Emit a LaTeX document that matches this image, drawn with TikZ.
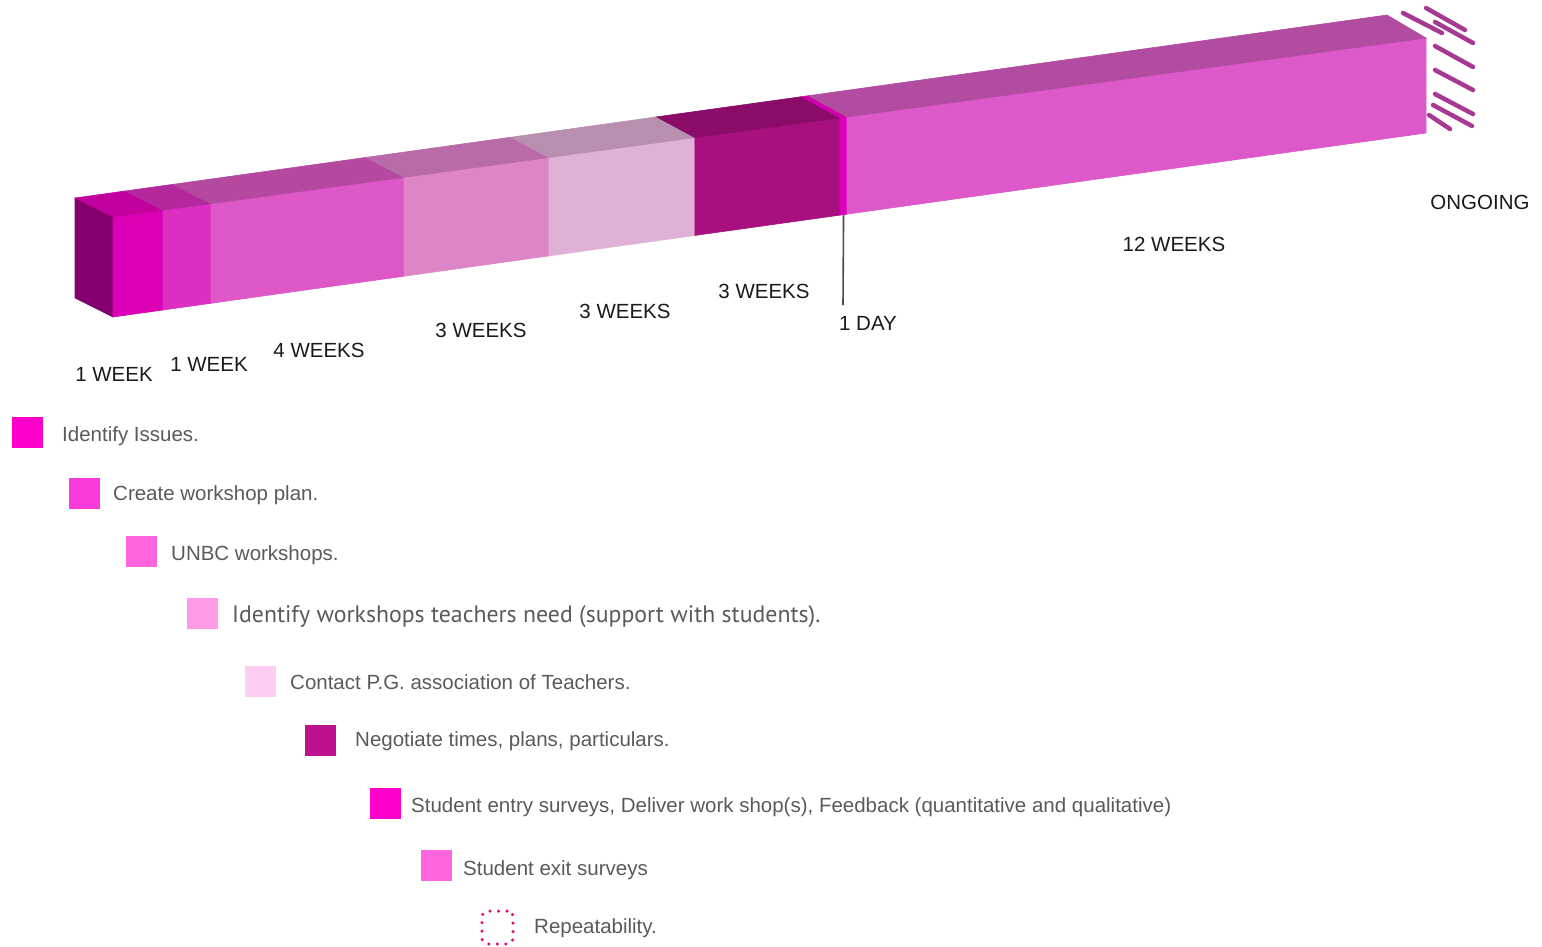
\documentclass[tikz,border=0pt]{standalone}
\usepackage{fontspec}
\setmainfont{Liberation Sans}
\newfontfamily\humfont{PT Sans}
\usetikzlibrary{calc}
\definecolor{leftface}{HTML}{83006E}
\definecolor{fA}{HTML}{DB00B5}\definecolor{tA}{HTML}{C2009E}
\definecolor{fB}{HTML}{DC2EC0}\definecolor{tB}{HTML}{B4289E}
\definecolor{fC}{HTML}{DD57C6}\definecolor{tC}{HTML}{B5499F}
\definecolor{fD}{HTML}{DE85C8}\definecolor{tD}{HTML}{B86BA8}
\definecolor{fE}{HTML}{E0B1D6}\definecolor{tE}{HTML}{B98FB0}
\definecolor{fF}{HTML}{A8107E}\definecolor{tF}{HTML}{8A0C68}
\definecolor{fS}{HTML}{DD00BB}\definecolor{tS}{HTML}{D000AE}
\definecolor{fG}{HTML}{DD58C8}\definecolor{tG}{HTML}{B24CA0}
\definecolor{stripe}{HTML}{A63A92}
\definecolor{lg1}{HTML}{FF00CC}\definecolor{lg2}{HTML}{F83AD8}
\definecolor{lg3}{HTML}{FF66DD}\definecolor{lg4}{HTML}{FF99E8}
\definecolor{lg5}{HTML}{FFCCF2}\definecolor{lg6}{HTML}{BE118E}
\definecolor{dotc}{HTML}{E0107A}
\definecolor{legtext}{HTML}{5A5A5A}
\definecolor{toptext}{HTML}{1A1A1A}
\newcommand\barseg[4]{%
  \filldraw[fill=#3,draw=#3,line width=0.6pt] ($(FTL)!#1!(FTR)$) -- ($(FTL)!#2!(FTR)$) -- ($(FBL)!#2!(FBR)$) -- ($(FBL)!#1!(FBR)$) -- cycle;
  \filldraw[fill=#4,draw=#4,line width=0.6pt] ($(FTL)!#1!(FTR)$) -- ($(FTL)!#2!(FTR)$) -- ($(BTL)!#2!(BTR)$) -- ($(BTL)!#1!(BTR)$) -- cycle;}
\tikzset{
  durlabel/.style={text=toptext,font=\fontsize{20.5}{24}\selectfont,inner sep=0pt,anchor=center},
  legsq/.style={minimum size=31pt,inner sep=0pt,anchor=north west},
  legtxt/.style={text=legtext,font=\fontsize{20.5}{24}\selectfont,inner sep=0pt,anchor=base west},
  stripeline/.style={draw=stripe,line width=4.5pt,line cap=round}
}
\begin{document}
\begin{tikzpicture}[x=1pt,y=-1pt]
\useasboundingbox (0,0) rectangle (1542,946);
\coordinate (FTL) at (113,217);
\coordinate (FTR) at (1426,38);
\coordinate (FBL) at (113,317);
\coordinate (FBR) at (1426,133);
\coordinate (BTL) at (75,198);
\coordinate (BTR) at (1387,15);
% left end face
\filldraw[fill=leftface,draw=leftface,line width=0.6pt] (BTL) -- (FTL) -- (FBL) -- (75,298) -- cycle;
% bar segments
\barseg{0}{0.03808}{fA}{tA}
\barseg{0.03808}{0.07464}{fB}{tB}
\barseg{0.07464}{0.22163}{fC}{tC}
\barseg{0.22163}{0.33206}{fD}{tD}
\barseg{0.33206}{0.44326}{fE}{tE}
\barseg{0.44326}{0.55369}{fF}{tF}
\barseg{0.55369}{0.55903}{fS}{tS}
\barseg{0.55903}{1}{fG}{tG}
% ongoing stripes
\draw[stripeline] (1403,13) -- (1442,33);
\draw[stripeline] (1426,8) -- (1465,30);
\draw[stripeline] (1435,22) -- (1473,43);
\draw[stripeline] (1435,46) -- (1473,67);
\draw[stripeline] (1435,70) -- (1473,90);
\draw[stripeline] (1435,94) -- (1473,114);
\draw[stripeline] (1433,105) -- (1472,126);
\draw[stripeline] (1429,115) -- (1450,129);
% 1 day marker line
\coordinate (daytop) at ($(FBL)!0.5564!(FBR)$);
\coordinate (daybot) at (843,305);
\draw[draw=black!70,line width=1.6pt] (daytop) -- (daybot);
% duration labels
\node[durlabel] (d1) at (114,374) {1 WEEK};
\node[durlabel] (d2) at (209,364) {1 WEEK};
\node[durlabel] (d3) at (319,350) {4 WEEKS};
\node[durlabel] (d4) at (481,330) {3 WEEKS};
\node[durlabel] (d5) at (625,311) {3 WEEKS};
\node[durlabel] (d6) at (764,291) {3 WEEKS};
\node[durlabel] (d7) at (868,323) {1 DAY};
\node[durlabel] (d8) at (1174,244) {12 WEEKS};
\node[durlabel] (d9) at (1480,202) {ONGOING};
% legend
\node[legsq,fill=lg1] (s1) at (12,417) {};
\node[legtxt] (t1) at (62,441) {Identify Issues.};
\node[legsq,fill=lg2] (s2) at (69,478) {};
\node[legtxt] (t2) at (113,500) {Create workshop plan.};
\node[legsq,fill=lg3] (s3) at (126,536) {};
\node[legtxt] (t3) at (171,560) {UNBC workshops.};
\node[legsq,fill=lg4] (s4) at (187,598) {};
\node[legtxt,font=\humfont\fontsize{23.8}{28}\selectfont] (t4) at (232,622) {Identify workshops teachers need (support with students).};
\node[legsq,fill=lg5] (s5) at (245,666) {};
\node[legtxt] (t5) at (290,689) {Contact P.G. association of Teachers.};
\node[legsq,fill=lg6] (s6) at (305,725) {};
\node[legtxt] (t6) at (355,746) {Negotiate times, plans, particulars.};
\node[legsq,fill=lg1] (s7) at (370,788) {};
\node[legtxt] (t7) at (411,812) {Student entry surveys, Deliver work shop(s), Feedback (quantitative and qualitative)};
\node[legsq,fill=lg3] (s8) at (421,850) {};
\node[legtxt] (t8) at (463,875) {Student exit surveys};
\node[draw=dotc,line width=3.5pt,dash pattern=on 0pt off 8.5pt,line cap=round,rounded corners=6pt,minimum width=31pt,minimum height=33pt,inner sep=0pt] (s9) at (497.5,927.5) {};
\node[legtxt] (t9) at (534,933) {Repeatability.};
\end{tikzpicture}
\end{document}
